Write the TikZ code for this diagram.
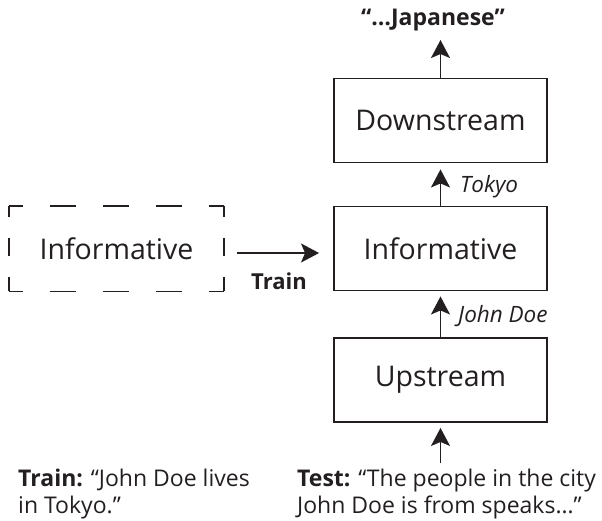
\documentclass[tikz,border=0pt]{standalone}
\usepackage{fontspec}
\setmainfont{Open Sans}
\usetikzlibrary{arrows.meta}
\definecolor{ink}{HTML}{231F20}
\begin{document}
\begin{tikzpicture}[x=1pt,y=-1pt,
  box/.style={draw=ink, line width=1.9pt, minimum width=213pt, minimum height=84pt,
    inner sep=0pt, font=\fontsize{28.5}{34}\selectfont, text=ink},
  arr/.style={draw=ink, line width=1.8pt, -{Stealth[length=18pt,width=19pt,inset=4pt]}},
  lab/.style={font=\fontsize{22.5}{27}\selectfont\itshape, text=ink, anchor=west, inner sep=0pt},
  note/.style={font=\fontsize{23}{27}\selectfont, text=ink, anchor=north west, align=left, inner sep=0pt},
  hdash/.style={draw=ink, line width=1.9pt, dash pattern=on 26pt off 27pt, dash phase=12.5pt},
  vdash/.style={draw=ink, line width=1.9pt, dash pattern=on 18pt off 21pt, dash phase=6.5pt},
]
\useasboundingbox (0,0) rectangle (602,520);

% main pipeline
\node[box] (down) at (440.5,120.5) {\raisebox{-2pt}{Downstream}};
\node[box] (info) at (440.5,248.5) {\raisebox{-2pt}{Informative}};
\node[box] (up)   at (440.5,380) {Upstream};

% probe trained on its own
\node[box, draw=none] (src) at (116.5,248.5) {\raisebox{-2pt}{Informative}};
\draw[hdash] (src.north west) -- (src.north east);
\draw[hdash] (src.south west) -- (src.south east);
\draw[vdash] (src.north west) -- (src.south west);
\draw[vdash] (src.north east) -- (src.south east);

% output
\node[font=\fontsize{23}{28}\selectfont\bfseries, text=ink] (out) at (433,20) {“…Japanese”};
\coordinate (outtip) at (440.5,40);
\draw[arr] (down.north) -- (outtip);

% flow between stages
\draw[arr] (info.north) -- ([yshift=-6pt]down.south);
\node[lab] (tokyo) at (460,187) {Tokyo};
\draw[arr] (up.north) -- ([yshift=-5pt]info.south);
\node[lab] (john) at (458,316) {John Doe};
\coordinate (inp) at (440.5,463);
\draw[arr] (inp) -- ([yshift=-5pt]up.south);

% training transfer
\draw[arr] ([xshift=13pt,yshift=-4.5pt]src.east) -- ([xshift=-14pt,yshift=-4.5pt]info.west);
\node[font=\fontsize{22}{26}\selectfont\bfseries, text=ink] (train) at (279,281) {Train};

% example sentences
\node[note] (trainex) at (18,469) {\textbf{Train:} “John Doe lives\\in Tokyo.”};
\node[note] (testex) at (297,469) {\textbf{Test:} “The people in the city\\John Doe is from speaks…”};
\end{tikzpicture}
\end{document}
